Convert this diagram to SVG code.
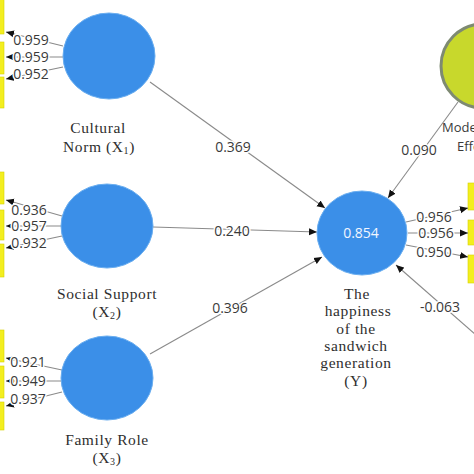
<svg xmlns="http://www.w3.org/2000/svg" width="474" height="474" viewBox="0 0 474 474">
<style>
.lv{fill:#3b8fe8;stroke:#6aaef0;stroke-width:1}
.ind{fill:#f3ee1f;stroke:#d6d200;stroke-width:0.6}
.con{stroke:#8a8a8a;stroke-width:1.1;fill:none}
.num{font-family:"Open Sans","DejaVu Sans",sans-serif;font-size:14px;fill:#3a3a3a;text-anchor:middle;stroke:#fff;stroke-width:3;stroke-linejoin:round;paint-order:stroke}
.nm{font-family:"Liberation Serif","DejaVu Serif",serif;font-size:15.5px;fill:#2e2e2e;text-anchor:middle;letter-spacing:0.6px}
.sub{font-size:10px}
.mod{font-family:"Open Sans","DejaVu Sans",sans-serif;font-size:13px;fill:#3a3a3a}
</style>
<defs>
<marker id="ah" markerUnits="userSpaceOnUse" markerWidth="8" markerHeight="8" viewBox="0 0 8 8" refX="8" refY="4" orient="auto">
<path d="M0,0.5 L8,4 L0,7.5 Z" fill="#111"/>
</marker>
</defs>
<rect width="474" height="474" fill="#fff"/>

<g id="indicators">
<rect class="ind" x="-40" y="-5" width="44" height="39"/>
<rect class="ind" x="-40" y="42" width="44" height="32"/>
<rect class="ind" x="-40" y="77" width="44" height="31"/>
<rect class="ind" x="-40" y="172" width="44" height="32"/>
<rect class="ind" x="-40" y="210" width="44" height="30"/>
<rect class="ind" x="-40" y="244" width="44" height="33"/>
<rect class="ind" x="-40" y="330" width="44" height="32"/>
<rect class="ind" x="-40" y="366" width="44" height="32"/>
<rect class="ind" x="-40" y="402" width="44" height="28"/>
<rect class="ind" x="468" y="183" width="40" height="27"/>
<rect class="ind" x="468" y="220" width="40" height="25"/>
<rect class="ind" x="468" y="255" width="40" height="28"/>
</g>

<g id="connectors">
<line class="con" x1="63" y1="46" x2="6" y2="32" marker-end="url(#ah)"/>
<line class="con" x1="63" y1="57" x2="6" y2="57" marker-end="url(#ah)"/>
<line class="con" x1="63" y1="67" x2="6" y2="79" marker-end="url(#ah)"/>
<line class="con" x1="62" y1="216" x2="6" y2="200" marker-end="url(#ah)"/>
<line class="con" x1="62" y1="226" x2="6" y2="226" marker-end="url(#ah)"/>
<line class="con" x1="62" y1="236" x2="6" y2="248" marker-end="url(#ah)"/>
<line class="con" x1="62" y1="370" x2="6" y2="358" marker-end="url(#ah)"/>
<line class="con" x1="62" y1="381" x2="6" y2="381" marker-end="url(#ah)"/>
<line class="con" x1="62" y1="392" x2="6" y2="406" marker-end="url(#ah)"/>
<line class="con" x1="406" y1="222" x2="468" y2="208" marker-end="url(#ah)"/>
<line class="con" x1="408" y1="233" x2="468" y2="233" marker-end="url(#ah)"/>
<line class="con" x1="406" y1="245" x2="468" y2="257" marker-end="url(#ah)"/>
<line class="con" x1="150" y1="82" x2="325" y2="208" marker-end="url(#ah)"/>
<line class="con" x1="153" y1="227" x2="317" y2="232" marker-end="url(#ah)"/>
<line class="con" x1="150" y1="354" x2="322" y2="257" marker-end="url(#ah)"/>
<line class="con" x1="458" y1="102" x2="388" y2="198" marker-end="url(#ah)"/>
<line class="con" x1="492" y1="349" x2="396" y2="265" marker-end="url(#ah)"/>
</g>

<g id="cultural-norm">
<ellipse class="lv" cx="109" cy="56" rx="46" ry="43"/>
<text class="nm" x="98" y="133">Cultural</text>
<text class="nm" x="99" y="152">Norm (X<tspan class="sub" dy="2">1</tspan><tspan dy="-2">)</tspan></text>
</g>
<g id="social-support">
<ellipse class="lv" cx="107" cy="226" rx="46" ry="42"/>
<text class="nm" x="107" y="299">Social Support</text>
<text class="nm" x="107" y="317">(X<tspan class="sub" dy="2">2</tspan><tspan dy="-2">)</tspan></text>
</g>
<g id="family-role">
<ellipse class="lv" cx="107" cy="378" rx="46" ry="42"/>
<text class="nm" x="107" y="445">Family Role</text>
<text class="nm" x="107" y="463">(X<tspan class="sub" dy="2">3</tspan><tspan dy="-2">)</tspan></text>
</g>
<g id="happiness">
<ellipse class="lv" cx="362" cy="233" rx="45" ry="42"/>
<text x="361" y="238" font-family="'Open Sans','DejaVu Sans',sans-serif" font-size="14" fill="#f2f6ff" text-anchor="middle">0.854</text>
<text class="nm" x="357" y="299">The</text>
<text class="nm" x="358" y="316">happiness</text>
<text class="nm" x="356" y="334">of the</text>
<text class="nm" x="356" y="351">sandwich</text>
<text class="nm" x="356" y="368">generation</text>
<text class="nm" x="356" y="386">(Y)</text>
</g>
<g id="moderating-effect">
<circle cx="483" cy="66" r="42" fill="#c8d82c" stroke="#7e8a72" stroke-width="3"/>
<text class="mod" x="442" y="132">Moderating</text>
<text class="mod" x="457" y="151">Effect</text>
</g>

<g id="labels">
<text class="num" x="31" y="45">0.959</text>
<text class="num" x="31" y="62">0.959</text>
<text class="num" x="31" y="79">0.952</text>
<text class="num" x="29" y="215">0.936</text>
<text class="num" x="29" y="231">0.957</text>
<text class="num" x="29" y="248">0.932</text>
<text class="num" x="28" y="367">0.921</text>
<text class="num" x="28" y="386">0.949</text>
<text class="num" x="28" y="404">0.937</text>
<text class="num" x="434" y="222">0.956</text>
<text class="num" x="436" y="238">0.956</text>
<text class="num" x="434" y="257">0.950</text>
<text class="num" x="233" y="152">0.369</text>
<text class="num" x="232" y="236">0.240</text>
<text class="num" x="230" y="313">0.396</text>
<text class="num" x="419" y="155">0.090</text>
<text class="num" x="440" y="312">-0.063</text>
</g>
</svg>
